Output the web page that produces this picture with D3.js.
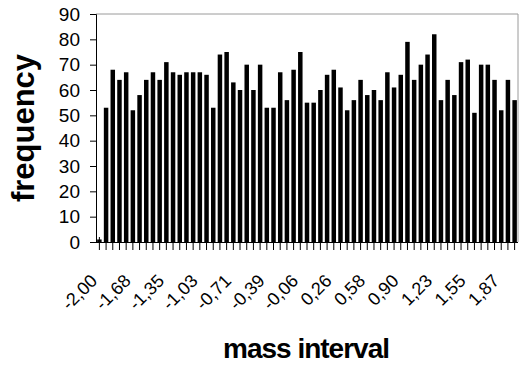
<!DOCTYPE html>
<html>
<head>
<meta charset="utf-8">
<script src="https://cdn.jsdelivr.net/npm/d3@7"></script>
<style>
  body { margin: 0; background: #fff; }
  svg { display: block; font-family: "Liberation Sans", Arial, sans-serif; }
</style>
</head>
<body>
<svg id="chart"></svg>
<script>
// mass interval bins (lower edges), one per bar
const massBins = [
  -2.00, -1.94, -1.87, -1.81, -1.74, -1.68, -1.61, -1.55, -1.48, -1.42,
  -1.35, -1.29, -1.23, -1.16, -1.10, -1.03, -0.97, -0.90, -0.84, -0.77,
  -0.71, -0.65, -0.58, -0.52, -0.45, -0.39, -0.32, -0.26, -0.19, -0.13,
  -0.06, 0.00, 0.06, 0.13, 0.19, 0.26, 0.32, 0.39, 0.45, 0.52,
  0.58, 0.64, 0.71, 0.77, 0.84, 0.90, 0.97, 1.03, 1.10, 1.16,
  1.23, 1.29, 1.35, 1.42, 1.48, 1.55, 1.61, 1.68, 1.74, 1.81,
  1.87, 1.93, 2.00
];

const frequency = [
  1, 53, 68, 64, 67, 52, 58, 64, 67, 64,
  71, 67, 66, 67, 67, 67, 66, 53, 74, 75,
  63, 60, 70, 60, 70, 53, 53, 67, 56, 68,
  75, 55, 55, 60, 66, 68, 61, 52, 56, 64,
  58, 60, 56, 67, 61, 66, 79, 64, 70, 74,
  82, 56, 64, 58, 71, 72, 51, 70, 70, 64,
  52, 64, 56
];

// bins that carry a label on the x axis, and the label text
const labelBins = [-2.00, -1.68, -1.35, -1.03, -0.71, -0.39, -0.06, 0.26, 0.58, 0.90, 1.23, 1.55, 1.87];
const tickLabels = ["-2,00", "-1,68", "-1,35", "-1,03", "-0,71", "-0,39", "-0,06", "0,26", "0,58", "0,90", "1,23", "1,55", "1,87"];

const yTicks = [0, 10, 20, 30, 40, 50, 60, 70, 80, 90];

const width = 519, height = 365;
const margin = {top: 14, right: 1, bottom: 123, left: 96};

const svg = d3.select("#chart")
  .attr("width", width)
  .attr("height", height);

const x = d3.scaleBand()
  .domain(massBins)
  .range([margin.left, width - margin.right])
  .paddingInner(0.33)
  .paddingOuter(0.17);

const y = d3.scaleLinear()
  .domain([0, 90])
  .range([height - margin.bottom, margin.top]);

const data = massBins.map((b, i) => ({bin: b, value: frequency[i]}));

// plot frame (grey top and right edges)
svg.append("path")
  .attr("d", `M${margin.left},${margin.top}H${width - margin.right}V${height - margin.bottom}`)
  .attr("fill", "none")
  .attr("stroke", "#9a9a9a")
  .attr("stroke-width", 1);

// x ticks, one per bin, crossing the axis
const xTicks = svg.append("g")
  .attr("transform", `translate(0,${height - margin.bottom})`);
xTicks.selectAll("line")
  .data(massBins)
  .join("line")
  .attr("x1", d => x(d) + x.bandwidth() / 2)
  .attr("x2", d => x(d) + x.bandwidth() / 2)
  .attr("y1", -5)
  .attr("y2", 8)
  .attr("stroke", "#000");

// bars
svg.append("g")
  .selectAll("rect")
  .data(data)
  .join("rect")
  .attr("x", d => x(d.bin))
  .attr("y", d => y(d.value))
  .attr("width", x.bandwidth())
  .attr("height", d => y(0) - y(d.value))
  .attr("fill", "#000");

// x axis line + labels
const xAxis = svg.append("g")
  .attr("transform", `translate(0,${height - margin.bottom})`)
  .call(d3.axisBottom(x)
    .tickValues(labelBins)
    .tickSize(0)
    .tickFormat((d, i) => tickLabels[i]));
xAxis.select(".domain").attr("stroke", "#000").attr("d", `M${margin.left},0.5H${width - margin.right}`);
xAxis.selectAll("text")
  .attr("font-size", 18)
  .attr("fill", "#000")
  .attr("text-anchor", "end")
  .attr("dy", null)
  .attr("y", null)
  .attr("transform", "translate(-1,40) rotate(-45)");

// y axis
const yAxis = svg.append("g")
  .attr("transform", `translate(${margin.left},0)`)
  .call(d3.axisLeft(y).tickValues(yTicks).tickSize(6).tickPadding(10));
yAxis.select(".domain").attr("stroke", "#000");
yAxis.selectAll(".tick line").attr("stroke", "#000");
yAxis.selectAll("text")
  .attr("font-size", 19)
  .attr("fill", "#000");

// axis titles
svg.append("text")
  .attr("transform", `translate(34,${(margin.top + height - margin.bottom) / 2}) rotate(-90)`)
  .attr("text-anchor", "middle")
  .attr("font-size", 31)
  .attr("font-weight", "bold")
  .text("frequency");

svg.append("text")
  .attr("x", 306)
  .attr("y", 358)
  .attr("text-anchor", "middle")
  .attr("font-size", 28)
  .attr("font-weight", "bold")
  .attr("letter-spacing", -1)
  .text("mass interval");
</script>
</body>
</html>
